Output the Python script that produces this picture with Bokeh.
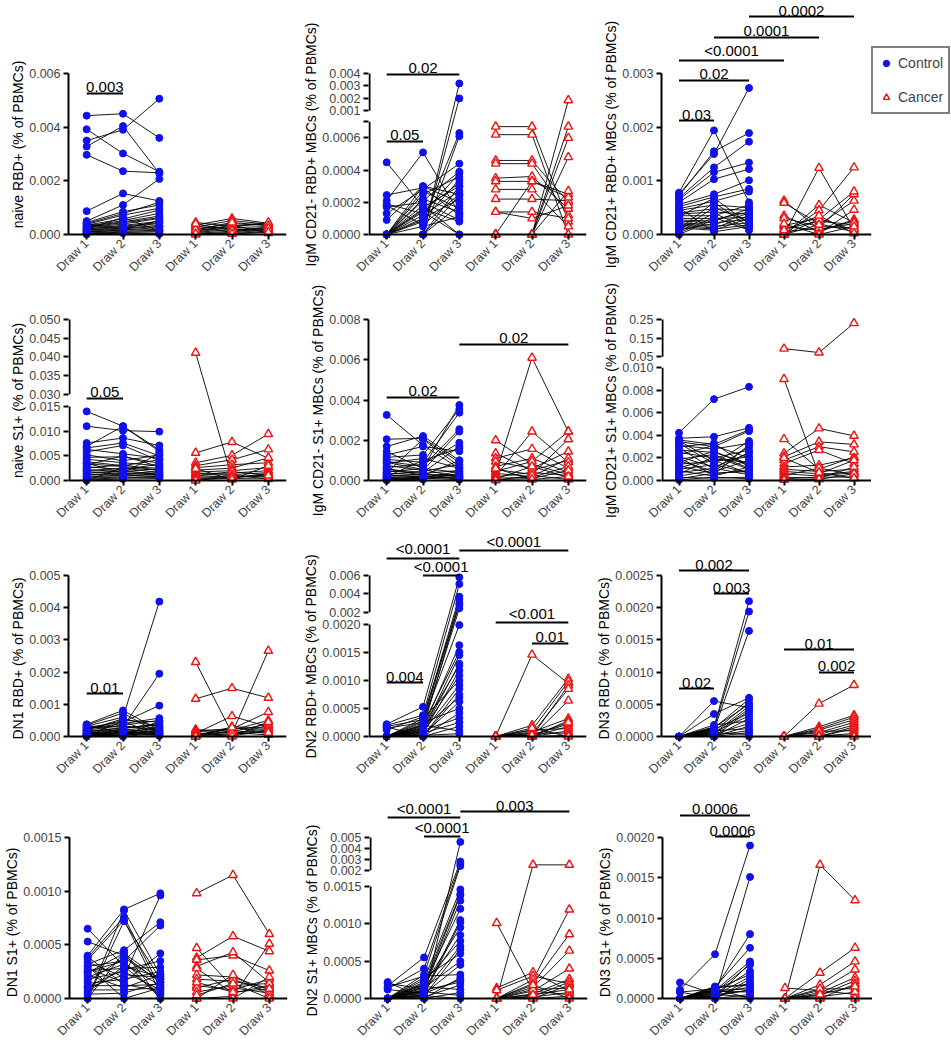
import math
from bokeh.plotting import figure
from bokeh.models import (Range1d, FixedTicker, ColumnDataSource, LabelSet,
                          Span, Legend, LegendItem, Title)
from bokeh.layouts import column, row
from bokeh.core.properties import value
from bokeh.embed import file_html
from bokeh.resources import INLINE

FONT = "Liberation Sans"
BLUE = "#1010EE"
RED = "#EE1111"

DRAWS = ["Draw 1", "Draw 2", "Draw 3"]
GROUPS = ["Control", "Cancer"]

Y_LABELS = [
    "naive RBD+ (% of PBMCs)",
    "IgM CD21- RBD+ MBCs (% of PBMCs)",
    "IgM CD21+ RBD+ MBCs (% of PBMCs)",
    "naive S1+ (% of PBMCs)",
    "IgM CD21- S1+ MBCs (% of PBMCs)",
    "IgM CD21+ S1+ MBCs (% of PBMCs)",
    "DN1 RBD+  (% of PBMCs)",
    "DN2 RBD+ MBCs (% of PBMCs)",
    "DN3 RBD+  (% of PBMCs)",
    "DN1 S1+  (% of PBMCs)",
    "DN2 S1+ MBCs (% of PBMCs)",
    "DN3 S1+  (% of PBMCs)",
]

# ---------------- panel 1 : naive RBD+ ----------------
P1_TICKS = [0.0, 0.002, 0.004, 0.006]
P1_TICK_LABELS = ["0.000", "0.002", "0.004", "0.006"]
P1_UP_TICKS, P1_UP_LABELS, P1_BREAK = [], [], None
P1_CONTROL = [
    [0.00443, 0.00450, 0.00360], [0.00350, 0.00390, 0.00506], [0.00328, 0.00404, 0.00228],
    [0.00392, 0.00302, 0.00234], [0.00297, 0.00236, 0.00230], [0.00087, 0.00153, 0.00125],
    [0.00050, 0.00110, 0.00207], [0.00045, 0.00085, 0.00110], [0.00041, 0.00078, 0.00120],
    [0.00038, 0.00072, 0.00098], [0.00035, 0.00058, 0.00091], [0.00031, 0.00052, 0.00079],
    [0.00030, 0.00047, 0.00069], [0.00027, 0.00044, 0.00063], [0.00025, 0.00039, 0.00060],
    [0.00021, 0.00034, 0.00049], [0.00020, 0.00031, 0.00044], [0.00017, 0.00027, 0.00041],
    [0.00015, 0.00024, 0.00034], [0.00012, 0.00021, 0.00030], [0.00010, 0.00017, 0.00026],
    [0.00008, 0.00016, 0.00019], [0.00005, 0.00012, 0.00016], [0.00003, 0.00009, 0.00011],
    [0.00002, 0.00007, 0.00005], [0.00001, 0.00005, 0.00002], [0.00040, 0.00020, 0.00052],
    [0.00020, 0.00064, 0.00014],
]
P1_CANCER = [
    [0.00045, 0.00030, 0.00040], [0.00035, 0.00060, 0.00042], [0.00028, 0.00052, 0.00038],
    [0.00020, 0.00040, 0.00035], [0.00015, 0.00030, 0.00045], [0.00010, 0.00025, 0.00030],
    [0.00008, 0.00018, 0.00025], [0.00005, 0.00012, 0.00020], [0.00002, 0.00008, 0.00015],
    [0.00000, 0.00005, 0.00010], [0.00012, 0.00035, 0.00005], [0.00025, 0.00010, 0.00028],
    [0.00030, 0.00022, 0.00012], [0.00018, 0.00045, 0.00033], [0.00040, 0.00015, 0.00022],
    [0.00003, 0.00002, 0.00008],
]
P1_COMPARISONS = [("Control", "Draw 1", "Control", "Draw 2", "0.003")]

# ---------------- panel 2 : IgM CD21- RBD+ MBCs ----------------
P2_TICKS = [0.0, 0.0002, 0.0004, 0.0006, 0.0007]
P2_TICK_LABELS = ["0.0000", "0.0002", "0.0004", "0.0006", ""]
P2_UP_TICKS = [0.001, 0.002, 0.003, 0.004]
P2_UP_LABELS = ["0.001", "0.002", "0.003", "0.004"]
P2_BREAK = (0.0007, 0.001, 0.004)
P2_CONTROL = [
    [0.000448, 0.00017, 0.00030], [0.000245, 0.00029, 0.00012], [0.00021, 0.00051, 0.00013],
    [0.00019, 0.00013, 0.00038], [0.00018, 0.00006, 0.00025], [0.00017, 0.00020, 0.00009],
    [0.00013, 0.00028, 0.00044], [0.00009, 0.00030, 0.00020], [0.0, 0.0, 0.0032],
    [0.0, 0.0, 0.0020], [0.0, 0.00008, 0.00063], [0.0, 0.0, 0.00061],
    [0.0, 0.00025, 0.00036], [0.0, 0.00021, 0.00039], [0.0, 0.00015, 0.00032],
    [0.0, 0.00012, 0.00027], [0.0, 0.00027, 0.00016], [0.0, 0.00010, 0.00022],
    [0.0, 0.0, 0.00030], [0.0, 0.00018, 0.0], [0.0, 0.00005, 0.00011],
    [0.0, 0.0, 0.00018], [0.0, 0.00030, 0.00025], [0.0, 0.00016, 0.00008],
    [0.0, 0.00022, 0.00014], [0.0, 0.0, 0.00024], [0.0, 0.00014, 0.0],
    [0.0, 0.00009, 0.00034],
]
P2_CANCER = [
    [0.00067, 0.00067, 0.00008], [0.00062, 0.00062, 0.0], [0.00046, 0.00046, 0.00020],
    [0.00044, 0.00044, 0.00012], [0.00035, 0.00036, 0.00016], [0.00033, 0.00033, 0.00025],
    [0.00028, 0.00028, 0.00005], [0.00022, 0.00022, 0.00021], [0.00014, 0.00014, 0.00010],
    [0.00014, 0.00010, 0.00018], [0.0, 0.00033, 0.00023], [0.0, 0.0, 0.00185],
    [0.0, 0.0, 0.00067], [0.0, 0.0, 0.00060], [0.0, 0.0, 0.00048], [0.0, 0.0, 0.00027],
]
P2_COMPARISONS = [("Control", "Draw 1", "Control", "Draw 3", "0.02"),
                  ("Control", "Draw 1", "Control", "Draw 2", "0.05")]

# ---------------- panel 3 : IgM CD21+ RBD+ MBCs ----------------
P3_TICKS = [0.0, 0.001, 0.002, 0.003]
P3_TICK_LABELS = ["0.000", "0.001", "0.002", "0.003"]
P3_UP_TICKS, P3_UP_LABELS, P3_BREAK = [], [], None
P3_CONTROL = [
    [0.00078, 0.00194, 0.00060], [0.00075, 0.00150, 0.00273], [0.00072, 0.00155, 0.00189],
    [0.00068, 0.00125, 0.00173], [0.00065, 0.00116, 0.00134], [0.00060, 0.00103, 0.00122],
    [0.00056, 0.00075, 0.00101], [0.00052, 0.00070, 0.00085], [0.00048, 0.00062, 0.00080],
    [0.00045, 0.00055, 0.00050], [0.00040, 0.00048, 0.00045], [0.00038, 0.00042, 0.00038],
    [0.00035, 0.00035, 0.00055], [0.00030, 0.00030, 0.00032], [0.00027, 0.00025, 0.00048],
    [0.00025, 0.00022, 0.00028], [0.00022, 0.00018, 0.00040], [0.00020, 0.00015, 0.00022],
    [0.00018, 0.00012, 0.00035], [0.00015, 0.00010, 0.00018], [0.00012, 0.00008, 0.00030],
    [0.00010, 0.00060, 0.00014], [0.00008, 0.00050, 0.00025], [0.00005, 0.00040, 0.00010],
    [0.00003, 0.00032, 0.00008], [0.00000, 0.00028, 0.00042], [0.00033, 0.00068, 0.00020],
    [0.00050, 0.00005, 0.00015],
]
P3_CANCER = [
    [0.00063, 0.00010, 0.00020], [0.00059, 0.00020, 0.00005], [0.00035, 0.00005, 0.00028],
    [0.00030, 0.00015, 0.00012], [0.00017, 0.00030, 0.00008], [0.00015, 0.00008, 0.00025],
    [0.00010, 0.00025, 0.00018], [0.00005, 0.00012, 0.00075], [0.00000, 0.00124, 0.00010],
    [0.00000, 0.00055, 0.00022], [0.00000, 0.00045, 0.00125], [0.00000, 0.00028, 0.00080],
    [0.00000, 0.00018, 0.00063], [0.00000, 0.00002, 0.00046], [0.00008, 0.00035, 0.00002],
    [0.00020, 0.00000, 0.00015],
]
P3_COMPARISONS = [("Control", "Draw 1", "Control", "Draw 2", "0.03"),
                  ("Control", "Draw 1", "Control", "Draw 3", "0.02"),
                  ("Control", "Draw 1", "Cancer", "Draw 1", "<0.0001"),
                  ("Control", "Draw 2", "Cancer", "Draw 2", "0.0001"),
                  ("Control", "Draw 3", "Cancer", "Draw 3", "0.0002")]

# ---------------- panel 4 : naive S1+ ----------------
P4_TICKS = [0.0, 0.005, 0.010, 0.015]
P4_TICK_LABELS = ["0.000", "0.005", "0.010", "0.015"]
P4_UP_TICKS = [0.030, 0.035, 0.040, 0.045, 0.050]
P4_UP_LABELS = ["0.030", "0.035", "0.040", "0.045", "0.050"]
P4_BREAK = (0.015, 0.030, 0.050)
P4_CONTROL = [
    [0.0140, 0.0110, 0.0059], [0.0110, 0.0101, 0.0099], [0.0076, 0.0086, 0.0071],
    [0.0069, 0.0110, 0.0062], [0.0066, 0.0076, 0.0050], [0.0063, 0.0054, 0.0045],
    [0.0058, 0.0071, 0.0040], [0.0052, 0.0040, 0.0052], [0.0047, 0.0048, 0.0035],
    [0.0043, 0.0036, 0.0030], [0.0038, 0.0030, 0.0042], [0.0034, 0.0028, 0.0025],
    [0.0031, 0.0050, 0.0028], [0.0028, 0.0022, 0.0033], [0.0025, 0.0032, 0.0020],
    [0.0022, 0.0018, 0.0024], [0.0020, 0.0025, 0.0016], [0.0018, 0.0014, 0.0018],
    [0.0015, 0.0020, 0.0012], [0.0013, 0.0012, 0.0015], [0.0011, 0.0016, 0.0010],
    [0.0009, 0.0009, 0.0013], [0.0007, 0.0011, 0.0008], [0.0005, 0.0007, 0.0006],
    [0.0003, 0.0005, 0.0009], [0.0001, 0.0003, 0.0004], [0.0000, 0.0026, 0.0021],
    [0.0035, 0.0015, 0.0055],
]
P4_CANCER = [
    [0.0411, 0.0005, 0.0012], [0.0056, 0.0078, 0.0045], [0.0036, 0.0051, 0.0094],
    [0.0030, 0.0042, 0.0063], [0.0026, 0.0032, 0.0036], [0.0021, 0.0025, 0.0046],
    [0.0017, 0.0020, 0.0026], [0.0014, 0.0015, 0.0020], [0.0011, 0.0012, 0.0016],
    [0.0009, 0.0018, 0.0011], [0.0007, 0.0009, 0.0008], [0.0005, 0.0006, 0.0014],
    [0.0003, 0.0004, 0.0005], [0.0001, 0.0011, 0.0003], [0.0000, 0.0007, 0.0010],
    [0.0024, 0.0002, 0.0030],
]
P4_COMPARISONS = [("Control", "Draw 1", "Control", "Draw 2", "0.05")]

# ---------------- panel 5 : IgM CD21- S1+ MBCs ----------------
P5_TICKS = [0.0, 0.002, 0.004, 0.006, 0.008]
P5_TICK_LABELS = ["0.000", "0.002", "0.004", "0.006", "0.008"]
P5_UP_TICKS, P5_UP_LABELS, P5_BREAK = [], [], None
P5_CONTROL = [
    [0.00326, 0.00175, 0.00060], [0.00205, 0.00210, 0.00090], [0.00169, 0.00221, 0.00100],
    [0.00144, 0.00060, 0.00375], [0.00127, 0.00169, 0.00145], [0.00115, 0.00127, 0.00354],
    [0.00105, 0.00090, 0.00337], [0.00095, 0.00070, 0.00255], [0.00085, 0.00110, 0.00060],
    [0.00075, 0.00050, 0.00243], [0.00065, 0.00080, 0.00188], [0.00055, 0.00040, 0.00169],
    [0.00048, 0.00035, 0.00050], [0.00042, 0.00060, 0.00040], [0.00036, 0.00028, 0.00030],
    [0.00030, 0.00045, 0.00080], [0.00026, 0.00020, 0.00025], [0.00022, 0.00030, 0.00020],
    [0.00018, 0.00015, 0.00045], [0.00014, 0.00022, 0.00012], [0.00010, 0.00010, 0.00018],
    [0.00007, 0.00018, 0.00008], [0.00004, 0.00005, 0.00035], [0.00001, 0.00012, 0.00004],
    [0.00020, 0.00100, 0.00160], [0.00038, 0.00205, 0.00070], [0.00060, 0.00025, 0.00100],
    [0.00090, 0.00055, 0.00015],
]
P5_CANCER = [
    [0.00200, 0.00080, 0.00030], [0.00135, 0.00050, 0.00100], [0.00110, 0.00157, 0.00060],
    [0.00094, 0.00060, 0.00144], [0.00070, 0.00110, 0.00040], [0.00055, 0.00030, 0.00205],
    [0.00045, 0.00095, 0.00243], [0.00035, 0.00020, 0.00110], [0.00030, 0.00610, 0.00243],
    [0.00022, 0.00243, 0.00090], [0.00018, 0.00040, 0.00025], [0.00012, 0.00015, 0.00070],
    [0.00008, 0.00070, 0.00015], [0.00004, 0.00010, 0.00050], [0.00001, 0.00025, 0.00005],
    [0.00060, 0.00005, 0.00020],
]
P5_COMPARISONS = [("Control", "Draw 1", "Control", "Draw 3", "0.02"),
                  ("Control", "Draw 3", "Cancer", "Draw 3", "0.02")]

# ---------------- panel 6 : IgM CD21+ S1+ MBCs ----------------
P6_TICKS = [0.0, 0.002, 0.004, 0.006, 0.008, 0.010]
P6_TICK_LABELS = ["0.000", "0.002", "0.004", "0.006", "0.008", "0.010"]
P6_UP_TICKS = [0.05, 0.15, 0.25]
P6_UP_LABELS = ["0.05", "0.15", "0.25"]
P6_BREAK = (0.010, 0.05, 0.25)
P6_CONTROL = [
    [0.00423, 0.00722, 0.00831], [0.00375, 0.00388, 0.00467], [0.00360, 0.00320, 0.00450],
    [0.00345, 0.00300, 0.00438], [0.00330, 0.00150, 0.00350], [0.00310, 0.00280, 0.00330],
    [0.00290, 0.00100, 0.00300], [0.00270, 0.00250, 0.00150], [0.00250, 0.00200, 0.00270],
    [0.00230, 0.00310, 0.00200], [0.00210, 0.00120, 0.00240], [0.00190, 0.00230, 0.00110],
    [0.00175, 0.00080, 0.00180], [0.00160, 0.00260, 0.00130], [0.00145, 0.00170, 0.00210],
    [0.00130, 0.00060, 0.00090], [0.00115, 0.00190, 0.00160], [0.00100, 0.00140, 0.00070],
    [0.00085, 0.00040, 0.00120], [0.00070, 0.00110, 0.00050], [0.00055, 0.00215, 0.00100],
    [0.00040, 0.00090, 0.00250], [0.00028, 0.00020, 0.00030], [0.00015, 0.00065, 0.00080],
    [0.00005, 0.00030, 0.00015], [0.00300, 0.00330, 0.00120], [0.00200, 0.00050, 0.00320],
    [0.00350, 0.00180, 0.00060],
]
P6_CANCER = [
    [0.09400, 0.07300, 0.23050], [0.00900, 0.00050, 0.00080], [0.00367, 0.00100, 0.00210],
    [0.00240, 0.00462, 0.00396], [0.00210, 0.00343, 0.00320], [0.00180, 0.00300, 0.00254],
    [0.00150, 0.00270, 0.00150], [0.00120, 0.00136, 0.00200], [0.00100, 0.00080, 0.00100],
    [0.00080, 0.00060, 0.00180], [0.00060, 0.00040, 0.00070], [0.00045, 0.00110, 0.00050],
    [0.00030, 0.00020, 0.00120], [0.00015, 0.00030, 0.00030], [0.00005, 0.00010, 0.00060],
    [0.00200, 0.00070, 0.00020],
]
P6_COMPARISONS = []

# ---------------- panel 7 : DN1 RBD+ ----------------
P7_TICKS = [0.0, 0.001, 0.002, 0.003, 0.004, 0.005]
P7_TICK_LABELS = ["0.000", "0.001", "0.002", "0.003", "0.004", "0.005"]
P7_UP_TICKS, P7_UP_LABELS, P7_BREAK = [], [], None
P7_CONTROL = [
    [0.00038, 0.00081, 0.00020], [0.00035, 0.00073, 0.00010], [0.00032, 0.00060, 0.00419],
    [0.00030, 0.00030, 0.00195], [0.00028, 0.00045, 0.00096], [0.00025, 0.00040, 0.00057],
    [0.00022, 0.00050, 0.00045], [0.00020, 0.00035, 0.00050], [0.00018, 0.00025, 0.00040],
    [0.00016, 0.00020, 0.00030], [0.00014, 0.00028, 0.00035], [0.00012, 0.00015, 0.00025],
    [0.00010, 0.00012, 0.00015], [0.00009, 0.00022, 0.00012], [0.00008, 0.00010, 0.00028],
    [0.00006, 0.00008, 0.00018], [0.00005, 0.00018, 0.00008], [0.00004, 0.00005, 0.00022],
    [0.00003, 0.00014, 0.00005], [0.00002, 0.00003, 0.00014], [0.00001, 0.00007, 0.00003],
    [0.00000, 0.00025, 0.00038], [0.00000, 0.00048, 0.00002], [0.00015, 0.00000, 0.00010],
    [0.00026, 0.00033, 0.00020], [0.00036, 0.00011, 0.00006], [0.00020, 0.00055, 0.00030],
    [0.00007, 0.00002, 0.00048],
]
P7_CANCER = [
    [0.00231, 0.00010, 0.00020], [0.00117, 0.00150, 0.00120], [0.00022, 0.00010, 0.00266],
    [0.00018, 0.00024, 0.00076], [0.00015, 0.00020, 0.00050], [0.00010, 0.00063, 0.00030],
    [0.00008, 0.00015, 0.00040], [0.00005, 0.00025, 0.00022], [0.00003, 0.00008, 0.00015],
    [0.00000, 0.00005, 0.00035], [0.00000, 0.00018, 0.00010], [0.00000, 0.00030, 0.00026],
    [0.00012, 0.00002, 0.00018], [0.00006, 0.00012, 0.00005], [0.00002, 0.00028, 0.00012],
    [0.00000, 0.00000, 0.00045],
]
P7_COMPARISONS = [("Control", "Draw 1", "Control", "Draw 2", "0.01")]

# ---------------- panel 8 : DN2 RBD+ MBCs ----------------
P8_TICKS = [0.0, 0.0005, 0.0010, 0.0015, 0.0020]
P8_TICK_LABELS = ["0.0000", "0.0005", "0.0010", "0.0015", "0.0020"]
P8_UP_TICKS = [0.002, 0.004, 0.006]
P8_UP_LABELS = ["0.002", "0.004", "0.006"]
P8_BREAK = (0.0020, 0.0020, 0.006)
P8_CONTROL = [
    [0.00022, 0.00053, 0.00580], [0.00020, 0.00038, 0.00507], [0.00018, 0.00030, 0.00370],
    [0.00015, 0.00025, 0.00335], [0.00012, 0.00035, 0.00280], [0.0, 0.00020, 0.00244],
    [0.0, 0.00028, 0.00199], [0.0, 0.00015, 0.00163], [0.0, 0.00022, 0.00151],
    [0.0, 0.00010, 0.00145], [0.0, 0.00018, 0.00127], [0.0, 0.00005, 0.00118],
    [0.0, 0.00012, 0.00109], [0.0, 0.00032, 0.00100], [0.0, 0.00008, 0.00092],
    [0.0, 0.0, 0.00085], [0.0, 0.00016, 0.00070], [0.0, 0.00003, 0.00062],
    [0.0, 0.00025, 0.00050], [0.0, 0.0, 0.00042], [0.0, 0.00011, 0.00033],
    [0.0, 0.00006, 0.00025], [0.0, 0.0, 0.00018], [0.0, 0.00020, 0.00010],
    [0.0, 0.00002, 0.00005], [0.0, 0.00014, 0.00300], [0.0, 0.00009, 0.00130],
    [0.00017, 0.0, 0.00075],
]
P8_CANCER = [
    [0.0, 0.00146, 0.00095], [0.0, 0.00020, 0.00103], [0.0, 0.00011, 0.00098],
    [0.0, 0.0, 0.00091], [0.0, 0.00005, 0.00085], [0.0, 0.0, 0.00064],
    [0.0, 0.00008, 0.00032], [0.0, 0.0, 0.00028], [0.0, 0.00003, 0.00022],
    [0.0, 0.0, 0.00018], [0.0, 0.00012, 0.00014], [0.0, 0.0, 0.00010],
    [0.0, 0.00006, 0.00006], [0.0, 0.0, 0.00002], [0.0, 0.00002, 0.00025],
    [0.0, 0.00015, 0.0],
]
P8_COMPARISONS = [("Control", "Draw 1", "Control", "Draw 2", "0.004"),
                  ("Control", "Draw 1", "Control", "Draw 3", "<0.0001"),
                  ("Control", "Draw 2", "Control", "Draw 3", "<0.0001"),
                  ("Control", "Draw 3", "Cancer", "Draw 3", "<0.0001"),
                  ("Cancer", "Draw 1", "Cancer", "Draw 3", "<0.001"),
                  ("Cancer", "Draw 2", "Cancer", "Draw 3", "0.01")]

# ---------------- panel 9 : DN3 RBD+ ----------------
P9_TICKS = [0.0, 0.0005, 0.0010, 0.0015, 0.0020, 0.0025]
P9_TICK_LABELS = ["0.0000", "0.0005", "0.0010", "0.0015", "0.0020", "0.0025"]
P9_UP_TICKS, P9_UP_LABELS, P9_BREAK = [], [], None
P9_CONTROL = [
    [0.0, 0.00055, 0.00045], [0.0, 0.00035, 0.00060], [0.0, 0.00015, 0.00210],
    [0.0, 0.00012, 0.00194], [0.0, 0.00010, 0.00164], [0.0, 0.00008, 0.00053],
    [0.0, 0.00014, 0.00050], [0.0, 0.00005, 0.00047], [0.0, 0.00003, 0.00043],
    [0.0, 0.0, 0.00040], [0.0, 0.00011, 0.00036], [0.0, 0.00007, 0.00032],
    [0.0, 0.0, 0.00028], [0.0, 0.00018, 0.00024], [0.0, 0.00004, 0.00020],
    [0.0, 0.0, 0.00016], [0.0, 0.00009, 0.00012], [0.0, 0.00002, 0.00009],
    [0.0, 0.0, 0.00006], [0.0, 0.00006, 0.00003], [0.0, 0.0, 0.0],
    [0.0, 0.00013, 0.00058],
]
P9_CANCER = [
    [0.0, 0.00051, 0.00080], [0.0, 0.00015, 0.00033], [0.0, 0.00012, 0.00030],
    [0.0, 0.00010, 0.00026], [0.0, 0.00006, 0.00022], [0.0, 0.00003, 0.00018],
    [0.0, 0.0, 0.00015], [0.0, 0.0, 0.00012], [0.0, 0.00008, 0.00009],
    [0.0, 0.0, 0.00005], [0.0, 0.00002, 0.00002], [0.0, 0.0, 0.0],
]
P9_COMPARISONS = [("Control", "Draw 1", "Control", "Draw 2", "0.02"),
                  ("Control", "Draw 1", "Control", "Draw 3", "0.002"),
                  ("Control", "Draw 2", "Control", "Draw 3", "0.003"),
                  ("Cancer", "Draw 1", "Cancer", "Draw 3", "0.01"),
                  ("Cancer", "Draw 2", "Cancer", "Draw 3", "0.002")]

# ---------------- panel 10 : DN1 S1+ ----------------
P10_TICKS = [0.0, 0.0005, 0.0010, 0.0015]
P10_TICK_LABELS = ["0.0000", "0.0005", "0.0010", "0.0015"]
P10_UP_TICKS, P10_UP_LABELS, P10_BREAK = [], [], None
P10_CONTROL = [
    [0.00065, 0.00030, 0.00020], [0.00053, 0.00040, 0.00015], [0.00040, 0.00083, 0.00098],
    [0.00038, 0.00076, 0.00010], [0.00036, 0.00073, 0.00005], [0.00034, 0.00020, 0.00096],
    [0.00032, 0.00045, 0.00071], [0.00030, 0.00035, 0.00068], [0.00028, 0.00015, 0.00042],
    [0.00026, 0.00028, 0.00029], [0.00024, 0.00042, 0.00018], [0.00022, 0.00010, 0.00022],
    [0.00020, 0.00032, 0.00012], [0.00018, 0.00025, 0.00008], [0.00016, 0.00038, 0.00016],
    [0.00014, 0.00018, 0.00025], [0.00012, 0.00012, 0.00013], [0.00010, 0.00022, 0.00020],
    [0.00008, 0.00008, 0.00010], [0.00006, 0.00030, 0.00003], [0.00004, 0.00005, 0.00015],
    [0.00000, 0.00082, 0.00022], [0.00000, 0.00072, 0.00018], [0.00000, 0.00043, 0.00000],
    [0.00030, 0.00000, 0.00010], [0.00025, 0.00035, 0.00000], [0.00039, 0.00013, 0.00007],
    [0.00011, 0.00027, 0.00035],
]
P10_CANCER = [
    [0.00098, 0.00115, 0.00060], [0.00047, 0.00010, 0.00005], [0.00038, 0.00058, 0.00044],
    [0.00036, 0.00040, 0.00026], [0.00030, 0.00043, 0.00015], [0.00028, 0.00005, 0.00012],
    [0.00022, 0.00020, 0.00008], [0.00018, 0.00016, 0.00010], [0.00012, 0.00008, 0.00018],
    [0.00010, 0.00018, 0.00006], [0.00006, 0.00012, 0.00014], [0.00000, 0.00002, 0.00051],
    [0.00000, 0.00022, 0.00003], [0.00000, 0.00000, 0.00020], [0.00003, 0.00014, 0.00000],
    [0.00015, 0.00006, 0.00009],
]
P10_COMPARISONS = []

# ---------------- panel 11 : DN2 S1+ MBCs ----------------
P11_TICKS = [0.0, 0.0005, 0.0010, 0.0015]
P11_TICK_LABELS = ["0.0000", "0.0005", "0.0010", "0.0015"]
P11_UP_TICKS = [0.002, 0.003, 0.004, 0.005]
P11_UP_LABELS = ["0.002", "0.003", "0.004", "0.005"]
P11_BREAK = (0.0015, 0.002, 0.005)
P11_CONTROL = [
    [0.00022, 0.0, 0.00460], [0.00017, 0.00055, 0.00280], [0.00013, 0.00040, 0.00260],
    [0.0, 0.00032, 0.00240], [0.0, 0.00025, 0.00146], [0.0, 0.00020, 0.00140],
    [0.0, 0.00015, 0.00138], [0.0, 0.00012, 0.00131], [0.0, 0.00008, 0.00105],
    [0.0, 0.00005, 0.00102], [0.0, 0.00018, 0.00095], [0.0, 0.00022, 0.00077],
    [0.0, 0.00010, 0.00070], [0.0, 0.00003, 0.00066], [0.0, 0.00028, 0.00060],
    [0.0, 0.00014, 0.00050], [0.0, 0.00006, 0.00045], [0.0, 0.0, 0.00028],
    [0.0, 0.00011, 0.00022], [0.0, 0.00002, 0.00018], [0.0, 0.00016, 0.00012],
    [0.0, 0.0, 0.00008], [0.0, 0.00009, 0.00004], [0.0, 0.00004, 0.0],
    [0.00015, 0.00030, 0.00032], [0.00012, 0.00007, 0.00025], [0.00020, 0.00013, 0.00085],
    [0.0, 0.00019, 0.00120],
]
P11_CANCER = [
    [0.0, 0.00250, 0.00250], [0.00101, 0.00010, 0.00005], [0.00014, 0.00035, 0.00010],
    [0.00011, 0.00030, 0.00020], [0.0, 0.00025, 0.00119], [0.0, 0.00020, 0.00086],
    [0.0, 0.00015, 0.00064], [0.0, 0.00010, 0.00040], [0.0, 0.00006, 0.00026],
    [0.0, 0.00003, 0.00022], [0.0, 0.0, 0.00018], [0.0, 0.00012, 0.00014],
    [0.0, 0.00002, 0.00008], [0.0, 0.0, 0.00003], [0.0, 0.00018, 0.0],
    [0.0, 0.00005, 0.00012],
]
P11_COMPARISONS = [("Control", "Draw 1", "Control", "Draw 3", "<0.0001"),
                   ("Control", "Draw 2", "Control", "Draw 3", "<0.0001"),
                   ("Control", "Draw 3", "Cancer", "Draw 3", "0.003")]

# ---------------- panel 12 : DN3 S1+ ----------------
P12_TICKS = [0.0, 0.0005, 0.0010, 0.0015, 0.0020]
P12_TICK_LABELS = ["0.0000", "0.0005", "0.0010", "0.0015", "0.0020"]
P12_UP_TICKS, P12_UP_LABELS, P12_BREAK = [], [], None
P12_CONTROL = [
    [0.00020, 0.00005, 0.00010], [0.00011, 0.00055, 0.00190], [0.00008, 0.00012, 0.00080],
    [0.0, 0.00002, 0.00151], [0.0, 0.00014, 0.00063], [0.0, 0.00010, 0.00046],
    [0.0, 0.00008, 0.00042], [0.0, 0.00006, 0.00034], [0.0, 0.00011, 0.00030],
    [0.0, 0.00004, 0.00027], [0.0, 0.0, 0.00024], [0.0, 0.00013, 0.00018],
    [0.0, 0.00007, 0.00014], [0.0, 0.00003, 0.00011], [0.0, 0.00009, 0.00008],
    [0.0, 0.0, 0.00005], [0.0, 0.00005, 0.00002], [0.0, 0.00012, 0.0],
    [0.0, 0.00001, 0.00044], [0.0, 0.00015, 0.00016], [0.00008, 0.0, 0.00020],
    [0.0, 0.00010, 0.00012],
]
P12_CANCER = [
    [0.0, 0.00166, 0.00122], [0.00013, 0.00010, 0.00005], [0.0, 0.00032, 0.00063],
    [0.0, 0.00017, 0.00046], [0.0, 0.00010, 0.00036], [0.0, 0.00007, 0.00026],
    [0.0, 0.00004, 0.00022], [0.0, 0.0, 0.00018], [0.0, 0.00012, 0.00012],
    [0.0, 0.00002, 0.00008], [0.0, 0.0, 0.0], [0.0, 0.00005, 0.00015],
]
P12_COMPARISONS = [("Control", "Draw 1", "Control", "Draw 3", "0.0006"),
                   ("Control", "Draw 2", "Control", "Draw 3", "0.0006")]

# ---------------- layout (positions / sizes only) ----------------
AXIS_PX = 161.0          # pixel height of every y axis
PAD_PX = 5.0             # room under the zero line for markers
ROW_FRAME_H = [239, 203, 213, 219]
ROW_TITLE_CENTRE = [90, 80, 80, 78]  # px above the zero line where y titles are centred
TITLE_PX = 14.0
COL_FRAME_W = [218, 218, 210]
COL_BORDER_L = [68, 73, 70]
COL_BORDER_R = [9, 5, 0]
BREAK_LAYOUT = {2: (0.70, 0.068), 4: (0.46, 0.075), 6: (0.70, 0.068),
                8: (0.696, 0.075), 11: (0.696, 0.10)}
BAR_LEVELS = {1: [0.876], 2: [0.994, 0.578], 3: [0.708, 0.957, 1.081, 1.224, 1.354],
              4: [0.51], 5: [0.516, 0.845], 6: [], 7: [0.267],
              8: [0.335, 1.106, 1.0, 1.155, 0.708, 0.578], 9: [0.298, 1.031, 0.888, 0.54, 0.398],
              10: [], 11: [1.124, 1.006, 1.161], 12: [1.137, 1.006]}
LEGEND_LOC = (0, 125)

# approximate advance widths (1/1000 em) of the sans font, used to centre titles
CHAR_W = {" ": 278, "(": 333, ")": 333, "%": 889, "+": 584, "-": 333, ".": 278,
          "A": 667, "B": 667, "C": 722, "D": 722, "G": 778, "I": 278, "M": 833,
          "N": 722, "P": 667, "R": 722, "S": 667, "a": 556, "e": 556, "f": 278,
          "g": 556, "i": 222, "n": 556, "o": 556, "s": 500, "v": 500}

G = globals()


def text_len(t, px):
    return sum(CHAR_W.get(ch, 556) for ch in t) / 1000.0 * px


def xpos(group, draw):
    return GROUPS.index(group) * len(DRAWS) + DRAWS.index(draw) + 1


def make_maps(i):
    ticks = G["P%d_TICKS" % i]
    brk = G["P%d_BREAK" % i]
    if brk is None:
        top = ticks[-1]
        f = lambda v: v / top
        return f, f, f
    lo_top, hi_bot, hi_top = brk
    f_lo, f_gap = BREAK_LAYOUT[i]
    f_hi = 1.0 - f_lo - f_gap

    def lower(v):
        return v / lo_top * f_lo

    def upper(v):
        return f_lo + f_gap + (v - hi_bot) / (hi_top - hi_bot) * f_hi

    def data(v):
        if v <= lo_top:
            return lower(v)
        if v < hi_bot:
            return f_lo + (v - lo_top) / (hi_bot - lo_top) * f_gap
        return upper(v)
    return lower, upper, data


def build(i, r, c):
    fw, fh = COL_FRAME_W[c], ROW_FRAME_H[r]
    y0 = -PAD_PX / AXIS_PX
    p = figure(frame_width=fw, frame_height=fh,
               min_border_left=COL_BORDER_L[c], min_border_right=COL_BORDER_R[c],
               min_border_top=0, min_border_bottom=40,
               x_range=Range1d(0.5, 6.5), y_range=Range1d(y0, y0 + fh / AXIS_PX),
               output_backend="svg", toolbar_location=None)
    p.outline_line_color = None
    p.xgrid.visible = False
    p.ygrid.visible = False

    lower, upper, dmap = make_maps(i)

    rend = {}
    pts = {}
    for group, key in (("Control", "CONTROL"), ("Cancer", "CANCER")):
        subjects = G["P%d_%s" % (i, key)]
        xs_l, ys_l, px, py = [], [], [], []
        for subj in subjects:
            xx = [xpos(group, d) for d in DRAWS]
            yy = [dmap(v) for v in subj]
            xs_l.append(xx)
            ys_l.append(yy)
            px.extend(xx)
            py.extend(yy)
        p.multi_line(xs=xs_l, ys=ys_l, line_color="black", line_width=0.9)
        pts[group] = (px, py)
    rend["Control"] = p.scatter(*pts["Control"], marker="circle", size=7, fill_color=BLUE,
                                line_color=BLUE, line_width=1)
    rend["Cancer"] = p.scatter(*pts["Cancer"], marker="triangle", size=8.5, fill_color="white",
                               line_color=RED, line_width=1.4)

    # zero line (x axis line)
    p.add_layout(Span(location=0, dimension="width", line_color="black", line_width=2))

    # y axis
    ticks = [lower(v) for v in G["P%d_TICKS" % i]] + [upper(v) for v in G["P%d_UP_TICKS" % i]]
    labels = G["P%d_TICK_LABELS" % i] + G["P%d_UP_LABELS" % i]
    ya = p.yaxis[0]
    ya.ticker = FixedTicker(ticks=ticks, minor_ticks=[])
    ya.major_label_overrides = {t: l for t, l in zip(ticks, labels)}
    ya.bounds = (0, 1)
    ya.major_label_text_font = FONT
    ya.major_label_text_font_size = "12.5px"
    ya.major_label_standoff = 3
    ya.major_tick_out = 5
    ya.major_tick_in = 0
    ya.minor_tick_line_color = None
    ya.axis_line_width = 2
    ya.major_tick_line_width = 2

    # y title: starts at the frame bottom, lifted so that it is centred near the axis
    label = Y_LABELS[i - 1]
    lift = PAD_PX + ROW_TITLE_CENTRE[r] - text_len(label, TITLE_PX) / 2.0
    p.add_layout(Title(text=label, align="left", offset=lift,
                       standoff=2, text_font=FONT, text_font_size="%gpx" % TITLE_PX,
                       text_font_style="normal", text_color="black"), "left")

    # broken axis: draw the two axis pieces inside the frame edge
    if G["P%d_BREAK" % i] is not None:
        f_lo, f_gap = BREAK_LAYOUT[i]
        ya.axis_line_color = None
        xa0 = 0.5 + 1.0 / (fw / 6.0)
        p.segment(x0=[xa0, xa0], y0=[0, f_lo + f_gap], x1=[xa0, xa0], y1=[f_lo, 1],
                  line_color="black", line_width=2)

    # x axis: ticks run from the frame bottom up to the zero line
    xa = p.xaxis[0]
    xt = [xpos(g, d) for g in GROUPS for d in DRAWS]
    xa.ticker = FixedTicker(ticks=xt, minor_ticks=[])
    xa.major_label_overrides = {xpos(g, d): d for g in GROUPS for d in DRAWS}
    xa.axis_line_color = None
    xa.major_label_orientation = math.pi / 4
    xa.major_label_text_font = FONT
    xa.major_label_text_font_size = "12.5px"
    xa.major_label_standoff = 2
    xa.major_tick_out = 0
    xa.major_tick_in = int(PAD_PX)
    xa.minor_tick_line_color = None
    xa.major_tick_line_width = 2

    # significance bars
    comps = G["P%d_COMPARISONS" % i]
    if comps:
        levels = BAR_LEVELS[i]
        x0 = [xpos(a, b) for a, b, _, _, _ in comps]
        x1 = [xpos(cg, cd) for _, _, cg, cd, _ in comps]
        src = ColumnDataSource(dict(x0=x0, x1=x1, y=levels,
                                    xm=[(a + b) / 2 for a, b in zip(x0, x1)],
                                    t=[cc[4] for cc in comps]))
        p.segment(x0="x0", y0="y", x1="x1", y1="y", source=src, line_color="black",
                  line_width=2)
        p.add_layout(LabelSet(x="xm", y="y", text="t", source=src, y_offset=1,
                              text_align="center", text_baseline="bottom",
                              text_font=value(FONT), text_font_size="15px",
                              text_color="black"))
    return p, rend


figs = []
for r in range(4):
    rowfigs = []
    for c in range(3):
        i = r * 3 + c + 1
        p, rend = build(i, r, c)
        if i == 3:
            legend = Legend(items=[LegendItem(label=GROUPS[0], renderers=[rend["Control"]]),
                                   LegendItem(label=GROUPS[1], renderers=[rend["Cancer"]])],
                            location=LEGEND_LOC, border_line_color="black",
                            border_line_width=2, label_text_font=FONT,
                            label_text_font_size="14px", padding=5, spacing=14,
                            glyph_width=16, glyph_height=20, label_standoff=4,
                            margin=0, background_fill_color="white",
                            background_fill_alpha=1.0)
            p.add_layout(legend, "right")
        rowfigs.append(p)
    figs.append(row(*rowfigs))

layout = column(*figs)
open("out.html", "w").write(file_html(layout, INLINE))
